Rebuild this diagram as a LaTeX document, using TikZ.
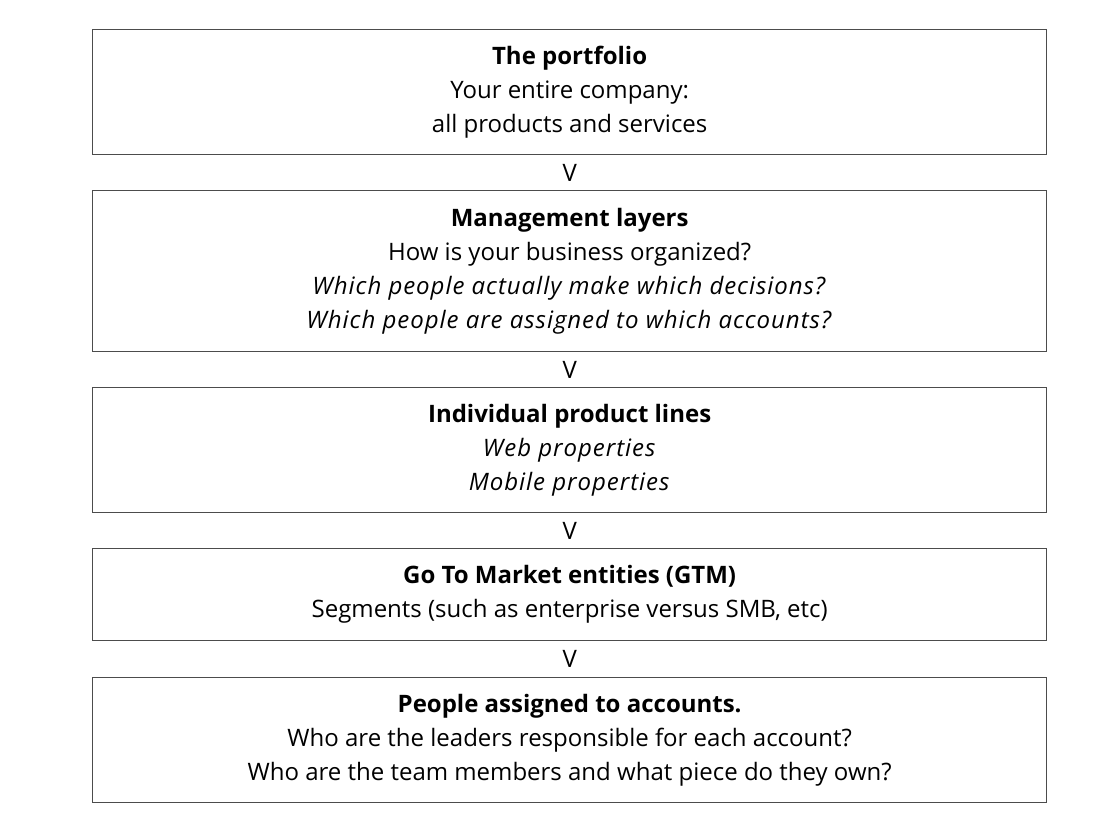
\documentclass[tikz,border=0pt]{standalone}
\usepackage{fontspec}
\setmainfont{Open Sans}[ItalicFeatures={LetterSpace=4}]
\usetikzlibrary{calc}
\begin{document}
\begin{tikzpicture}[x=1pt,y=-1pt,
  box/.style={draw=black!70, line width=1.3pt, minimum width=954pt, inner sep=0pt, anchor=north west},
  txt/.style={align=center, font=\fontsize{24}{34}\selectfont, inner sep=0pt, text=black},
  vmark/.style={font=\fontsize{24}{26}\selectfont, inner sep=0pt}]
\useasboundingbox (0,0) rectangle (1100,827);
\node[box, minimum height=125pt] (b1) at (92,29) {};
\node[box, minimum height=161pt] (b2) at (92,190) {};
\node[box, minimum height=125pt] (b3) at (92,387) {};
\node[box, minimum height=92pt]  (b4) at (92,548) {};
\node[box, minimum height=125pt] (b5) at (92,677) {};
\node[txt] (t1) at (b1.center) {\textbf{The portfolio}\\Your entire company:\\all products and services};
\node[txt] (t2) at (b2.center) {\textbf{Management layers}\\How is your business organized?\\\textit{Which people actually make which decisions?}\\\textit{Which people are assigned to which accounts?}};
\node[txt] (t3) at (b3.center) {\textbf{Individual product lines}\\\textit{Web properties}\\\textit{Mobile properties}};
\node[txt] (t4) at (b4.center) {\textbf{Go To Market entities (GTM)}\\Segments (such as enterprise versus SMB, etc)};
\node[txt] (t5) at (b5.center) {\textbf{People assigned to accounts.}\\Who are the leaders responsible for each account?\\Who are the team members and what piece do they own?};
\node[vmark] (v1) at ($(b1.south)!0.5!(b2.north)$) {V};
\node[vmark] (v2) at ($(b2.south)!0.5!(b3.north)$) {V};
\node[vmark] (v3) at ($(b3.south)!0.5!(b4.north)$) {V};
\node[vmark] (v4) at ($(b4.south)!0.5!(b5.north)$) {V};
\end{tikzpicture}
\end{document}
